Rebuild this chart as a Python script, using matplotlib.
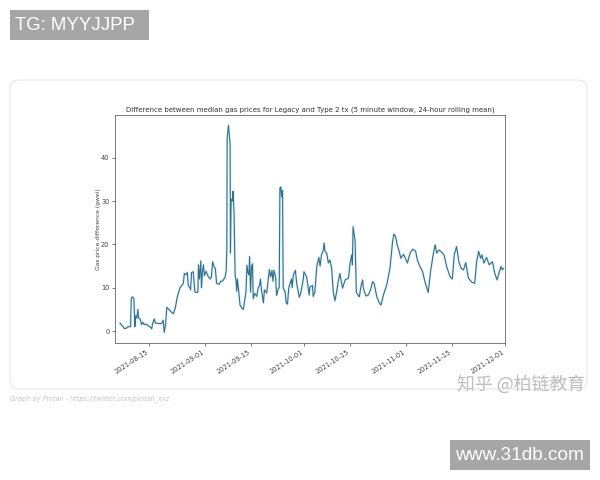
import matplotlib
matplotlib.use("Agg")
import numpy as np
import pandas as pd
import matplotlib.pyplot as plt
import matplotlib.dates as mdates
from matplotlib.patches import FancyBboxPatch, Rectangle

# days since 2021-08-15 and gas price difference (gwei)
days = [-8.8, -8.3, -7.8, -7.6, -7.0, -6.4, -5.6, -5.4, -5.0, -4.6, -4.3, -4.1, -3.7, -3.4, -3.2, -2.7, -2.3, -1.9, -1.5, -0.9,
        -0.2, 0.5, 0.8, 1.1, 1.6, 1.9, 2.5, 3.3, 3.9, 4.3, 4.6, 5.0, 5.4, 6.0, 6.6, 7.4, 8.0, 8.6, 9.4, 10.4,
        10.7, 11.2, 11.6, 11.9, 12.4, 12.6, 12.9, 13.4, 13.9, 14.5, 14.8, 15.0, 15.3, 15.7, 15.9, 16.2, 16.5, 16.8, 17.3, 18.0,
        18.6, 18.9, 19.3, 19.8, 20.1, 20.5, 21.3, 21.7, 22.3, 23.1, 23.4, 23.6, 23.7, 24.1, 24.6, 24.7, 24.9, 25.3, 25.5, 25.8,
        26.1, 26.4, 26.6, 26.8, 27.1, 27.6, 28.1, 28.6, 29.1, 29.4, 29.7, 30.0, 30.3, 30.5, 30.8, 31.1, 31.4, 31.6, 32.1, 32.7,
        33.1, 33.5, 33.8, 34.1, 34.7, 35.0, 35.7, 36.1, 36.5, 36.9, 37.3, 37.6, 37.9, 38.4, 38.7, 39.2, 39.5, 39.7, 40.0, 40.2,
        40.5, 40.7, 41.3, 41.6, 42.0, 42.4, 42.8, 43.2, 43.4, 43.8, 44.4, 44.8, 45.3, 45.6, 46.1, 46.8, 47.0, 47.8, 48.6, 48.8,
        49.6, 49.8, 50.3, 50.9, 51.5, 51.9, 52.3, 52.9, 53.1, 53.4, 53.9, 54.4, 54.9, 55.4, 55.9, 56.4, 56.9, 57.4, 57.9, 58.7,
        59.5, 60.5, 61.0, 61.5, 61.7, 61.9, 62.5, 62.9, 63.2, 63.8, 64.3, 64.8, 65.0, 65.8, 66.5, 67.2, 67.8, 68.3, 69.1, 69.9,
        70.4, 71.1, 72.1, 73.1, 73.9, 74.3, 74.8, 75.3, 75.9, 76.4, 77.2, 77.8, 78.4, 79.2, 80.0, 80.9, 81.4, 82.2, 83.0, 83.7,
        84.7, 85.4, 86.2, 86.8, 87.3, 88.0, 88.8, 89.5, 90.3, 91.3, 92.0, 92.6, 93.3, 94.0, 94.7, 95.4, 96.1, 96.9, 97.9, 98.8,
        99.4, 100.0, 100.6, 101.0, 101.6, 102.4, 103.2, 104.2, 104.9, 105.6, 106.3, 106.8, 107.2, 107.5]
gas_diff = [1.8, 1.3, 1.0, 0.6, 0.6, 1.0, 1.0, 7.5, 7.9, 7.4, 1.0, 3.5, 3.0, 5.0, 3.0, 2.8, 1.5, 2.0, 1.5, 1.6,
            1.2, 0.8, 0.5, 1.8, 2.8, 1.8, 1.8, 1.7, 1.8, 2.5, -0.3, 1.5, 5.5, 5.0, 4.5, 4.0, 5.5, 8.0, 10.0, 11.0,
            13.3, 13.0, 13.5, 10.5, 10.0, 9.5, 13.5, 13.7, 9.0, 8.9, 9.0, 15.3, 12.0, 16.2, 10.0, 13.5, 15.3, 12.8, 13.8, 12.5,
            12.0, 12.5, 16.0, 14.7, 14.5, 11.0, 10.8, 11.5, 11.5, 12.5, 14.0, 19.0, 44.5, 47.5, 43.0, 18.0, 30.5, 30.0, 32.3, 27.0,
            13.0, 11.5, 9.2, 12.0, 10.0, 6.0, 5.3, 5.0, 7.5, 9.0, 15.2, 13.5, 13.0, 17.2, 9.0, 15.0, 15.5, 7.5, 8.7, 8.0,
            10.0, 10.5, 12.0, 9.5, 6.5, 9.5, 8.8, 11.5, 14.2, 12.5, 14.0, 11.5, 14.0, 12.5, 8.2, 9.8, 10.0, 33.0, 33.3, 31.0,
            32.5, 10.0, 9.0, 6.5, 6.2, 10.0, 11.0, 12.0, 10.0, 13.0, 14.0, 11.0, 9.0, 7.8, 9.0, 12.0, 13.7, 12.5, 8.3, 10.2,
            10.5, 8.0, 9.0, 14.9, 17.0, 15.0, 17.6, 18.7, 20.3, 18.4, 18.0, 15.7, 16.4, 14.5, 9.0, 7.0, 9.0, 11.4, 13.3, 9.9,
            11.8, 12.2, 15.7, 17.6, 15.3, 24.1, 21.0, 9.0, 8.5, 7.9, 10.3, 11.8, 9.9, 8.1, 8.3, 9.5, 11.4, 11.0, 7.9, 6.4,
            6.0, 8.3, 10.6, 14.5, 20.7, 22.4, 21.8, 19.9, 18.4, 16.8, 17.7, 16.8, 15.7, 18.0, 18.9, 18.4, 16.4, 14.9, 13.7, 11.4,
            8.9, 13.7, 17.6, 19.9, 18.0, 18.7, 18.2, 17.6, 14.9, 12.6, 12.0, 17.6, 19.5, 16.0, 14.5, 14.1, 15.8, 12.2, 11.3, 11.0,
            16.0, 18.4, 16.8, 17.6, 15.7, 17.0, 15.3, 16.0, 13.3, 11.8, 13.7, 14.9, 14.1, 14.5]

xtick_labels = ["2021-08-15", "2021-09-01", "2021-09-15", "2021-10-01",
                "2021-10-15", "2021-11-01", "2021-11-15", "2021-12-01"]
ytick_values = [0, 10, 20, 30, 40]

dates = pd.Timestamp("2021-08-15") + pd.to_timedelta(days, unit="D")

W, H = 600, 480
fig = plt.figure(figsize=(W / 100, H / 100), dpi=100)

# page layer in pixel coordinates: card, watermarks, credit
bg = fig.add_axes([0, 0, 1, 1])
bg.set_xlim(0, W)
bg.set_ylim(H, 0)
bg.axis("off")
bg.add_patch(FancyBboxPatch((10, 80), 577, 309, boxstyle="round,pad=0,rounding_size=9",
                            fc="white", ec="#e2e5e3", lw=0.7))
bg.add_patch(Rectangle((10, 10), 139, 30, fc="#a6a6a6", ec="none"))
bg.add_patch(Rectangle((450, 440), 140, 30, fc="#a6a6a6", ec="none"))
bg.text(15, 25.5, "TG: MYYJJPP", color="white", family="Liberation Sans", fontsize=13.4, va="center")
bg.text(455, 456, "www.31db.com", color="white", family="Liberation Sans", fontsize=13.7, va="center")
bg.text(10, 398.5, "Graph by Pintail - https://twitter.com/pintail_xyz", color="#c4c4c4",
        style="italic", fontsize=4.8, va="center")

ax = fig.add_axes([115 / W, 1 - 343 / H, 390 / W, 228 / H])
ax.plot(dates, gas_diff, color="#cfe6ea", lw=2.0, alpha=0.5)
ax.plot(dates, gas_diff, color="#2f6f8f", lw=0.8)

ax.set_xlim(pd.Timestamp("2021-08-04 16:00"), pd.Timestamp("2021-12-01"))
ax.set_ylim(-2.77, 49.9)
ax.set_xticks(pd.to_datetime(xtick_labels))
ax.xaxis.set_major_formatter(mdates.DateFormatter("%Y-%m-%d"))
ax.set_yticks(ytick_values)
ax.tick_params(labelsize=4.8, length=2, width=0.5, pad=2, colors="#444444")
for lab in ax.get_xticklabels():
    lab.set_rotation(33)
    lab.set_ha("right")
for s in ax.spines.values():
    s.set_linewidth(0.6)
    s.set_color("#666666")
ax.set_ylabel("Gas price difference (gwei)", fontsize=4.3, color="#444444", labelpad=0)
ax.set_title("Difference between median gas prices for Legacy and Type 2 tx (5 minute window, 24-hour rolling mean)",
             fontsize=5.05, color="#333333", pad=2.5)

# watermark sits on top of the card corner
bg2 = fig.add_axes([0, 0, 1, 1], facecolor="none")
bg2.set_xlim(0, W)
bg2.set_ylim(H, 0)
bg2.axis("off")
bg2.text(457, 384, "知乎 @柏链教育", color="#bdbdbd", family=["Noto Sans CJK SC", "DejaVu Sans"],
         fontsize=12.9, va="center")

fig.savefig("out.png", dpi=100)
